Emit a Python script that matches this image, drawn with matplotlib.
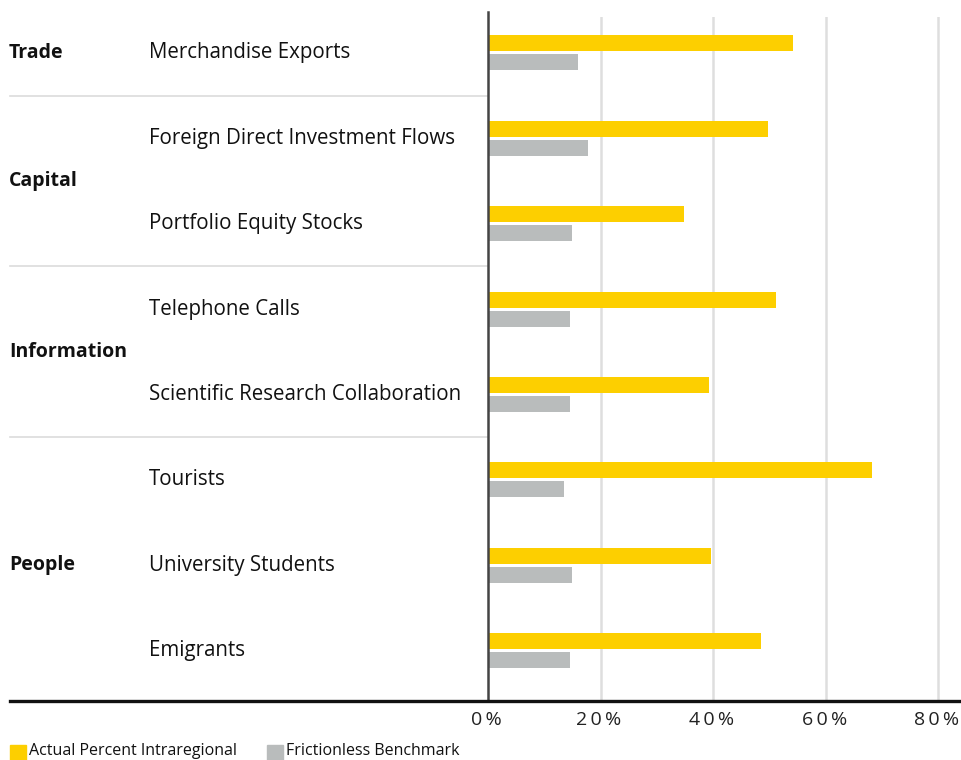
import matplotlib
matplotlib.use("Agg")
import matplotlib.pyplot as plt
from matplotlib.lines import Line2D
from matplotlib.patches import Rectangle
from matplotlib.transforms import blended_transform_factory

# data
groups = ["Trade", "Capital", "Information", "People"]
group_rows = [[0], [1, 2], [3, 4], [5, 6, 7]]
categories = [
    "Merchandise Exports",
    "Foreign Direct Investment Flows",
    "Portfolio Equity Stocks",
    "Telephone Calls",
    "Scientific Research Collaboration",
    "Tourists",
    "University Students",
    "Emigrants",
]
actual = [54.2, 49.8, 34.8, 51.2, 39.3, 68.2, 39.6, 48.5]
benchmark = [16.0, 17.8, 15.0, 14.6, 14.6, 13.5, 15.0, 14.6]
xticks = [0, 20, 40, 60, 80]

YELLOW = "#fdcf00"
GRAY = "#b9bcbc"

plt.rcParams["font.family"] = ["Open Sans", "DejaVu Sans"]

W, H = 962, 760
fig = plt.figure(figsize=(W / 100, H / 100), dpi=100)
ax = fig.add_axes([488 / W, (H - 701) / H, (W - 488) / W, (701 - 17) / H])

y = list(range(len(categories)))
bh = 0.187
off = 0.111
ax.barh([v - off for v in y], actual, height=bh, color=YELLOW, zorder=3)
ax.barh([v + off for v in y], benchmark, height=bh, color=GRAY, zorder=3)

ax.set_xlim(0, 84.2)
ax.set_ylim(7.59, -0.42)
ax.set_xticks(xticks)
# wide letter spacing on the tick labels
ax.set_xticklabels(["\u2009".join(f"{t}%") + "\u2009" for t in xticks],
                   fontsize=14, color="#222222")
ax.tick_params(axis="x", length=0, pad=7)
ax.set_yticks([])
for t in xticks[1:]:
    ax.axvline(t, color="#dedede", lw=1.8, zorder=1)
for s in ["top", "right", "bottom"]:
    ax.spines[s].set_visible(False)
ax.spines["left"].set_color("#444444")
ax.spines["left"].set_linewidth(1.8)
ax.spines["left"].set_zorder(4)
ax.spines["left"].set_bounds(-0.48, 7.59)

trans = blended_transform_factory(fig.transFigure, ax.transData)

# category labels
for i, name in enumerate(categories):
    ax.text(149 / W, i, name, transform=trans, fontsize=14.8, va="center",
            ha="left", color="#111111")

# group labels and separators
for g, rows in zip(groups, group_rows):
    ax.text(9 / W, sum(rows) / len(rows), g, transform=trans, fontsize=14,
            fontweight="bold", va="center", ha="left", color="#111111")
for sep in [0.5, 2.5, 4.5]:
    ax.add_line(Line2D([10 / W, 488 / W], [sep, sep], transform=trans,
                       color="#dcdcdc", lw=1.2, clip_on=False))

# bottom baseline
fig.add_artist(Line2D([10 / W, 1.0], [(H - 701) / H] * 2, color="#111111",
                      lw=2.4, transform=fig.transFigure))

# legend
legend_items = [("Actual Percent Intraregional", YELLOW, 10),
                ("Frictionless Benchmark", GRAY, 267)]
for label, col, x0 in legend_items:
    fig.add_artist(Rectangle((x0 / W, 0), 16 / W, 15 / H, color=col,
                             transform=fig.transFigure))
    fig.text((x0 + 19) / W, 9 / H, label, fontsize=11.5, va="center",
             ha="left", color="#111111")

fig.savefig("out.png", dpi=100)
